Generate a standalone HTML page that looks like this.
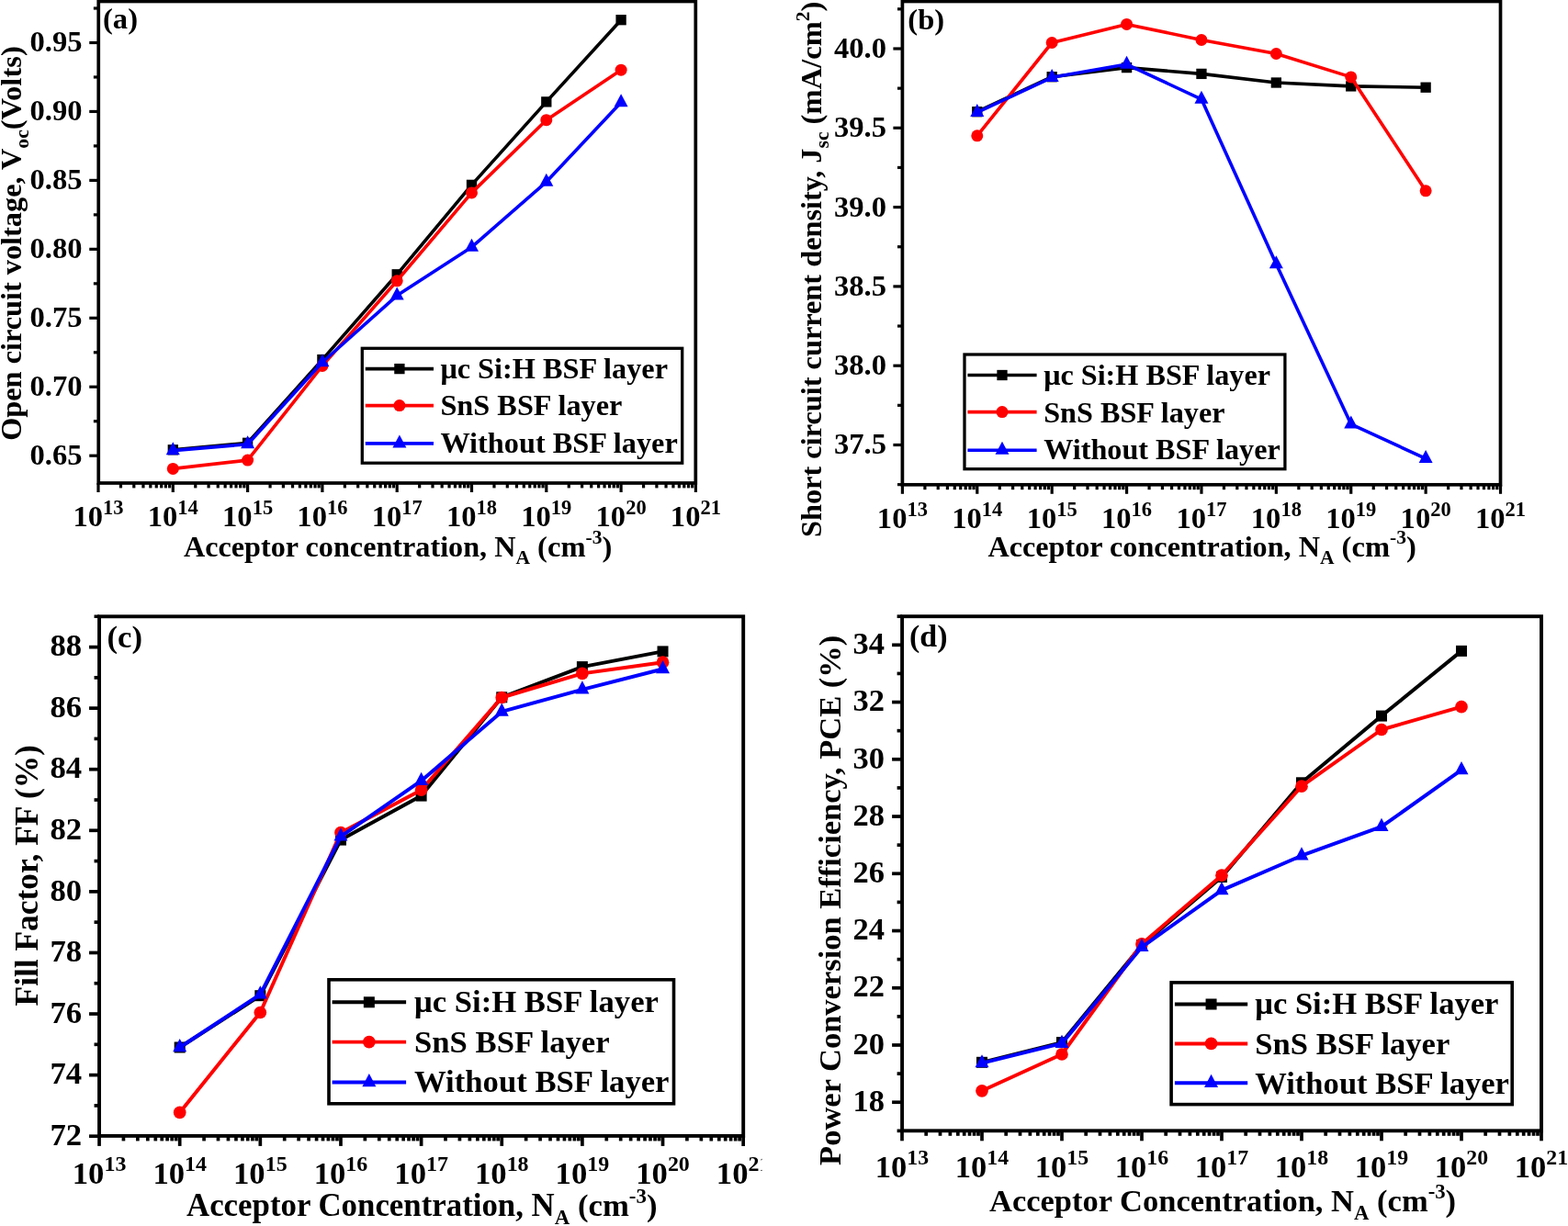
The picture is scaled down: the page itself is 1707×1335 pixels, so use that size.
<!DOCTYPE html>
<html><head><meta charset="utf-8"><title>Figure</title>
<style>html,body{margin:0;padding:0;background:#fff;}body{width:1707px;height:1335px;overflow:hidden;}svg{display:block;}</style>
</head><body>
<svg width="1707" height="1335" viewBox="0 0 1707 1335"><g stroke="#000" stroke-width="3.2" stroke-linecap="butt"><line x1="97.25" y1="496.2" x2="107.25" y2="496.2"/><line x1="97.25" y1="421.25" x2="107.25" y2="421.25"/><line x1="97.25" y1="346.3" x2="107.25" y2="346.3"/><line x1="97.25" y1="271.35" x2="107.25" y2="271.35"/><line x1="97.25" y1="196.4" x2="107.25" y2="196.4"/><line x1="97.25" y1="121.45" x2="107.25" y2="121.45"/><line x1="97.25" y1="46.5" x2="107.25" y2="46.5"/><line x1="101.85" y1="458.72" x2="107.25" y2="458.72"/><line x1="101.85" y1="383.77" x2="107.25" y2="383.77"/><line x1="101.85" y1="308.82" x2="107.25" y2="308.82"/><line x1="101.85" y1="233.87" x2="107.25" y2="233.87"/><line x1="101.85" y1="158.92" x2="107.25" y2="158.92"/><line x1="101.85" y1="83.97" x2="107.25" y2="83.97"/><line x1="101.85" y1="9.02" x2="107.25" y2="9.02"/><line x1="107" y1="526" x2="107" y2="536"/><line x1="131.47" y1="526" x2="131.47" y2="531.4"/><line x1="145.79" y1="526" x2="145.79" y2="531.4"/><line x1="155.95" y1="526" x2="155.95" y2="531.4"/><line x1="163.83" y1="526" x2="163.83" y2="531.4"/><line x1="170.26" y1="526" x2="170.26" y2="531.4"/><line x1="175.71" y1="526" x2="175.71" y2="531.4"/><line x1="180.42" y1="526" x2="180.42" y2="531.4"/><line x1="184.58" y1="526" x2="184.58" y2="531.4"/><line x1="188.3" y1="526" x2="188.3" y2="536"/><line x1="212.77" y1="526" x2="212.77" y2="531.4"/><line x1="227.09" y1="526" x2="227.09" y2="531.4"/><line x1="237.25" y1="526" x2="237.25" y2="531.4"/><line x1="245.13" y1="526" x2="245.13" y2="531.4"/><line x1="251.56" y1="526" x2="251.56" y2="531.4"/><line x1="257.01" y1="526" x2="257.01" y2="531.4"/><line x1="261.72" y1="526" x2="261.72" y2="531.4"/><line x1="265.88" y1="526" x2="265.88" y2="531.4"/><line x1="269.6" y1="526" x2="269.6" y2="536"/><line x1="294.07" y1="526" x2="294.07" y2="531.4"/><line x1="308.39" y1="526" x2="308.39" y2="531.4"/><line x1="318.55" y1="526" x2="318.55" y2="531.4"/><line x1="326.43" y1="526" x2="326.43" y2="531.4"/><line x1="332.86" y1="526" x2="332.86" y2="531.4"/><line x1="338.31" y1="526" x2="338.31" y2="531.4"/><line x1="343.02" y1="526" x2="343.02" y2="531.4"/><line x1="347.18" y1="526" x2="347.18" y2="531.4"/><line x1="350.9" y1="526" x2="350.9" y2="536"/><line x1="375.37" y1="526" x2="375.37" y2="531.4"/><line x1="389.69" y1="526" x2="389.69" y2="531.4"/><line x1="399.85" y1="526" x2="399.85" y2="531.4"/><line x1="407.73" y1="526" x2="407.73" y2="531.4"/><line x1="414.16" y1="526" x2="414.16" y2="531.4"/><line x1="419.61" y1="526" x2="419.61" y2="531.4"/><line x1="424.32" y1="526" x2="424.32" y2="531.4"/><line x1="428.48" y1="526" x2="428.48" y2="531.4"/><line x1="432.2" y1="526" x2="432.2" y2="536"/><line x1="456.67" y1="526" x2="456.67" y2="531.4"/><line x1="470.99" y1="526" x2="470.99" y2="531.4"/><line x1="481.15" y1="526" x2="481.15" y2="531.4"/><line x1="489.03" y1="526" x2="489.03" y2="531.4"/><line x1="495.46" y1="526" x2="495.46" y2="531.4"/><line x1="500.91" y1="526" x2="500.91" y2="531.4"/><line x1="505.62" y1="526" x2="505.62" y2="531.4"/><line x1="509.78" y1="526" x2="509.78" y2="531.4"/><line x1="513.5" y1="526" x2="513.5" y2="536"/><line x1="537.97" y1="526" x2="537.97" y2="531.4"/><line x1="552.29" y1="526" x2="552.29" y2="531.4"/><line x1="562.45" y1="526" x2="562.45" y2="531.4"/><line x1="570.33" y1="526" x2="570.33" y2="531.4"/><line x1="576.76" y1="526" x2="576.76" y2="531.4"/><line x1="582.21" y1="526" x2="582.21" y2="531.4"/><line x1="586.92" y1="526" x2="586.92" y2="531.4"/><line x1="591.08" y1="526" x2="591.08" y2="531.4"/><line x1="594.8" y1="526" x2="594.8" y2="536"/><line x1="619.27" y1="526" x2="619.27" y2="531.4"/><line x1="633.59" y1="526" x2="633.59" y2="531.4"/><line x1="643.75" y1="526" x2="643.75" y2="531.4"/><line x1="651.63" y1="526" x2="651.63" y2="531.4"/><line x1="658.06" y1="526" x2="658.06" y2="531.4"/><line x1="663.51" y1="526" x2="663.51" y2="531.4"/><line x1="668.22" y1="526" x2="668.22" y2="531.4"/><line x1="672.38" y1="526" x2="672.38" y2="531.4"/><line x1="676.1" y1="526" x2="676.1" y2="536"/><line x1="700.57" y1="526" x2="700.57" y2="531.4"/><line x1="714.89" y1="526" x2="714.89" y2="531.4"/><line x1="725.05" y1="526" x2="725.05" y2="531.4"/><line x1="732.93" y1="526" x2="732.93" y2="531.4"/><line x1="739.36" y1="526" x2="739.36" y2="531.4"/><line x1="744.81" y1="526" x2="744.81" y2="531.4"/><line x1="749.52" y1="526" x2="749.52" y2="531.4"/><line x1="753.68" y1="526" x2="753.68" y2="531.4"/><line x1="757.4" y1="526" x2="757.4" y2="536"/></g>
<rect x="107.25" y="1.5" width="650.05" height="524.5" fill="none" stroke="#000" stroke-width="3.7" stroke-linejoin="miter"/>
<g font-family="Liberation Serif, Times New Roman, serif" font-weight="bold" font-size="32.6" fill="#000"><text x="89.6" y="506.1" text-anchor="end">0.65</text><text x="89.6" y="431.15" text-anchor="end">0.70</text><text x="89.6" y="356.2" text-anchor="end">0.75</text><text x="89.6" y="281.25" text-anchor="end">0.80</text><text x="89.6" y="206.3" text-anchor="end">0.85</text><text x="89.6" y="131.35" text-anchor="end">0.90</text><text x="89.6" y="56.4" text-anchor="end">0.95</text><text x="107" y="573.4" text-anchor="middle">10<tspan font-size="22.49" dy="-13.04">13</tspan></text><text x="188.3" y="573.4" text-anchor="middle">10<tspan font-size="22.49" dy="-13.04">14</tspan></text><text x="269.6" y="573.4" text-anchor="middle">10<tspan font-size="22.49" dy="-13.04">15</tspan></text><text x="350.9" y="573.4" text-anchor="middle">10<tspan font-size="22.49" dy="-13.04">16</tspan></text><text x="432.2" y="573.4" text-anchor="middle">10<tspan font-size="22.49" dy="-13.04">17</tspan></text><text x="513.5" y="573.4" text-anchor="middle">10<tspan font-size="22.49" dy="-13.04">18</tspan></text><text x="594.8" y="573.4" text-anchor="middle">10<tspan font-size="22.49" dy="-13.04">19</tspan></text><text x="676.1" y="573.4" text-anchor="middle">10<tspan font-size="22.49" dy="-13.04">20</tspan></text><text x="757.4" y="573.4" text-anchor="middle">10<tspan font-size="22.49" dy="-13.04">21</tspan></text></g>
<text font-family="Liberation Serif, Times New Roman, serif" font-weight="bold" font-size="32.6" x="112" y="31">(a)</text>
<text font-family="Liberation Serif, Times New Roman, serif" font-weight="bold" font-size="32.2" x="200" y="605.5">Acceptor concentration, N<tspan font-size="21.52" dy="8.4">A</tspan><tspan font-size="32.6" dy="-8.4"> (cm</tspan><tspan font-size="21.52" dy="-13.1">-3</tspan><tspan font-size="32.6" dy="13.1">)</tspan></text>
<text font-family="Liberation Serif, Times New Roman, serif" font-weight="bold" font-size="32.3" text-anchor="middle" transform="translate(22.6,265) rotate(-90)">Open circuit voltage, V<tspan font-size="21.52" dy="8">oc</tspan><tspan font-size="32.6" dy="-8">(Volts)</tspan></text>
<polyline points="188.3,489.8 269.6,482.3 350.9,391.6 432.2,298.8 513.5,201.35 594.8,110.9 676.1,21.7" fill="none" stroke="#000000" stroke-width="3.6" stroke-linejoin="round"/>
<g fill="#000000"><rect x="182.65" y="484.15" width="11.3" height="11.3"/><rect x="263.95" y="476.65" width="11.3" height="11.3"/><rect x="345.25" y="385.95" width="11.3" height="11.3"/><rect x="426.55" y="293.15" width="11.3" height="11.3"/><rect x="507.85" y="195.7" width="11.3" height="11.3"/><rect x="589.15" y="105.25" width="11.3" height="11.3"/><rect x="670.45" y="16.05" width="11.3" height="11.3"/></g>
<polyline points="188.3,510.4 269.6,501.1 350.9,398.4 432.2,305.8 513.5,209.9 594.8,130.7 676.1,76.2" fill="none" stroke="#FF0000" stroke-width="3.6" stroke-linejoin="round"/>
<g fill="#FF0000"><circle cx="188.3" cy="510.4" r="6.5"/><circle cx="269.6" cy="501.1" r="6.5"/><circle cx="350.9" cy="398.4" r="6.5"/><circle cx="432.2" cy="305.8" r="6.5"/><circle cx="513.5" cy="209.9" r="6.5"/><circle cx="594.8" cy="130.7" r="6.5"/><circle cx="676.1" cy="76.2" r="6.5"/></g>
<polyline points="188.3,490.6 269.6,483.7 350.9,394.5 432.2,321.8 513.5,269.1 594.8,198.1 676.1,111.5" fill="none" stroke="#0000FF" stroke-width="3.6" stroke-linejoin="round"/>
<g fill="#0000FF"><path d="M188.3,481.27L195.8,495.27L180.8,495.27Z"/><path d="M269.6,474.37L277.1,488.37L262.1,488.37Z"/><path d="M350.9,385.17L358.4,399.17L343.4,399.17Z"/><path d="M432.2,312.47L439.7,326.47L424.7,326.47Z"/><path d="M513.5,259.77L521,273.77L506,273.77Z"/><path d="M594.8,188.77L602.3,202.77L587.3,202.77Z"/><path d="M676.1,102.17L683.6,116.17L668.6,116.17Z"/></g>
<rect x="394.3" y="379.3" width="348.4" height="124.9" fill="#fff" stroke="#000" stroke-width="3.3"/>
<line x1="397.8" y1="401.6" x2="472" y2="401.6" stroke="#000000" stroke-width="3.6"/>
<g fill="#000000"><rect x="429.25" y="395.95" width="11.3" height="11.3"/></g>
<text font-family="Liberation Serif, Times New Roman, serif" font-weight="bold" font-size="32.3" x="479.4" y="411.8">μc Si:H BSF layer</text>
<line x1="397.8" y1="441.6" x2="472" y2="441.6" stroke="#FF0000" stroke-width="3.6"/>
<g fill="#FF0000"><circle cx="434.9" cy="441.6" r="6.5"/></g>
<text font-family="Liberation Serif, Times New Roman, serif" font-weight="bold" font-size="32.3" x="479.4" y="452.3">SnS BSF layer</text>
<line x1="397.8" y1="482.9" x2="472" y2="482.9" stroke="#0000FF" stroke-width="3.6"/>
<g fill="#0000FF"><path d="M434.9,473.57L442.4,487.57L427.4,487.57Z"/></g>
<text font-family="Liberation Serif, Times New Roman, serif" font-weight="bold" font-size="32.3" x="479.4" y="492.5">Without BSF layer</text>
<g stroke="#000" stroke-width="3.2" stroke-linecap="butt"><line x1="972.4" y1="484.5" x2="982.4" y2="484.5"/><line x1="972.4" y1="398.2" x2="982.4" y2="398.2"/><line x1="972.4" y1="311.9" x2="982.4" y2="311.9"/><line x1="972.4" y1="225.6" x2="982.4" y2="225.6"/><line x1="972.4" y1="139.3" x2="982.4" y2="139.3"/><line x1="972.4" y1="53" x2="982.4" y2="53"/><line x1="977" y1="527.65" x2="982.4" y2="527.65"/><line x1="977" y1="441.35" x2="982.4" y2="441.35"/><line x1="977" y1="355.05" x2="982.4" y2="355.05"/><line x1="977" y1="268.75" x2="982.4" y2="268.75"/><line x1="977" y1="182.45" x2="982.4" y2="182.45"/><line x1="977" y1="96.15" x2="982.4" y2="96.15"/><line x1="977" y1="9.85" x2="982.4" y2="9.85"/><line x1="982.4" y1="527.8" x2="982.4" y2="537.8"/><line x1="1006.9" y1="527.8" x2="1006.9" y2="533.2"/><line x1="1021.23" y1="527.8" x2="1021.23" y2="533.2"/><line x1="1031.4" y1="527.8" x2="1031.4" y2="533.2"/><line x1="1039.29" y1="527.8" x2="1039.29" y2="533.2"/><line x1="1045.73" y1="527.8" x2="1045.73" y2="533.2"/><line x1="1051.18" y1="527.8" x2="1051.18" y2="533.2"/><line x1="1055.9" y1="527.8" x2="1055.9" y2="533.2"/><line x1="1060.07" y1="527.8" x2="1060.07" y2="533.2"/><line x1="1063.79" y1="527.8" x2="1063.79" y2="537.8"/><line x1="1088.29" y1="527.8" x2="1088.29" y2="533.2"/><line x1="1102.62" y1="527.8" x2="1102.62" y2="533.2"/><line x1="1112.79" y1="527.8" x2="1112.79" y2="533.2"/><line x1="1120.68" y1="527.8" x2="1120.68" y2="533.2"/><line x1="1127.12" y1="527.8" x2="1127.12" y2="533.2"/><line x1="1132.57" y1="527.8" x2="1132.57" y2="533.2"/><line x1="1137.29" y1="527.8" x2="1137.29" y2="533.2"/><line x1="1141.46" y1="527.8" x2="1141.46" y2="533.2"/><line x1="1145.18" y1="527.8" x2="1145.18" y2="537.8"/><line x1="1169.68" y1="527.8" x2="1169.68" y2="533.2"/><line x1="1184.01" y1="527.8" x2="1184.01" y2="533.2"/><line x1="1194.18" y1="527.8" x2="1194.18" y2="533.2"/><line x1="1202.07" y1="527.8" x2="1202.07" y2="533.2"/><line x1="1208.51" y1="527.8" x2="1208.51" y2="533.2"/><line x1="1213.96" y1="527.8" x2="1213.96" y2="533.2"/><line x1="1218.68" y1="527.8" x2="1218.68" y2="533.2"/><line x1="1222.85" y1="527.8" x2="1222.85" y2="533.2"/><line x1="1226.57" y1="527.8" x2="1226.57" y2="537.8"/><line x1="1251.07" y1="527.8" x2="1251.07" y2="533.2"/><line x1="1265.4" y1="527.8" x2="1265.4" y2="533.2"/><line x1="1275.57" y1="527.8" x2="1275.57" y2="533.2"/><line x1="1283.46" y1="527.8" x2="1283.46" y2="533.2"/><line x1="1289.9" y1="527.8" x2="1289.9" y2="533.2"/><line x1="1295.35" y1="527.8" x2="1295.35" y2="533.2"/><line x1="1300.07" y1="527.8" x2="1300.07" y2="533.2"/><line x1="1304.24" y1="527.8" x2="1304.24" y2="533.2"/><line x1="1307.96" y1="527.8" x2="1307.96" y2="537.8"/><line x1="1332.46" y1="527.8" x2="1332.46" y2="533.2"/><line x1="1346.79" y1="527.8" x2="1346.79" y2="533.2"/><line x1="1356.96" y1="527.8" x2="1356.96" y2="533.2"/><line x1="1364.85" y1="527.8" x2="1364.85" y2="533.2"/><line x1="1371.29" y1="527.8" x2="1371.29" y2="533.2"/><line x1="1376.74" y1="527.8" x2="1376.74" y2="533.2"/><line x1="1381.46" y1="527.8" x2="1381.46" y2="533.2"/><line x1="1385.63" y1="527.8" x2="1385.63" y2="533.2"/><line x1="1389.35" y1="527.8" x2="1389.35" y2="537.8"/><line x1="1413.85" y1="527.8" x2="1413.85" y2="533.2"/><line x1="1428.18" y1="527.8" x2="1428.18" y2="533.2"/><line x1="1438.35" y1="527.8" x2="1438.35" y2="533.2"/><line x1="1446.24" y1="527.8" x2="1446.24" y2="533.2"/><line x1="1452.68" y1="527.8" x2="1452.68" y2="533.2"/><line x1="1458.13" y1="527.8" x2="1458.13" y2="533.2"/><line x1="1462.85" y1="527.8" x2="1462.85" y2="533.2"/><line x1="1467.02" y1="527.8" x2="1467.02" y2="533.2"/><line x1="1470.74" y1="527.8" x2="1470.74" y2="537.8"/><line x1="1495.24" y1="527.8" x2="1495.24" y2="533.2"/><line x1="1509.57" y1="527.8" x2="1509.57" y2="533.2"/><line x1="1519.74" y1="527.8" x2="1519.74" y2="533.2"/><line x1="1527.63" y1="527.8" x2="1527.63" y2="533.2"/><line x1="1534.07" y1="527.8" x2="1534.07" y2="533.2"/><line x1="1539.52" y1="527.8" x2="1539.52" y2="533.2"/><line x1="1544.24" y1="527.8" x2="1544.24" y2="533.2"/><line x1="1548.41" y1="527.8" x2="1548.41" y2="533.2"/><line x1="1552.13" y1="527.8" x2="1552.13" y2="537.8"/><line x1="1576.63" y1="527.8" x2="1576.63" y2="533.2"/><line x1="1590.96" y1="527.8" x2="1590.96" y2="533.2"/><line x1="1601.13" y1="527.8" x2="1601.13" y2="533.2"/><line x1="1609.02" y1="527.8" x2="1609.02" y2="533.2"/><line x1="1615.46" y1="527.8" x2="1615.46" y2="533.2"/><line x1="1620.91" y1="527.8" x2="1620.91" y2="533.2"/><line x1="1625.63" y1="527.8" x2="1625.63" y2="533.2"/><line x1="1629.8" y1="527.8" x2="1629.8" y2="533.2"/><line x1="1633.52" y1="527.8" x2="1633.52" y2="537.8"/></g>
<rect x="982.4" y="1.5" width="651.1" height="526.3" fill="none" stroke="#000" stroke-width="3.7" stroke-linejoin="miter"/>
<g font-family="Liberation Serif, Times New Roman, serif" font-weight="bold" font-size="32.6" fill="#000"><text x="965" y="494.4" text-anchor="end">37.5</text><text x="965" y="408.1" text-anchor="end">38.0</text><text x="965" y="321.8" text-anchor="end">38.5</text><text x="965" y="235.5" text-anchor="end">39.0</text><text x="965" y="149.2" text-anchor="end">39.5</text><text x="965" y="62.9" text-anchor="end">40.0</text><text x="982.4" y="575" text-anchor="middle">10<tspan font-size="22.49" dy="-13.04">13</tspan></text><text x="1063.79" y="575" text-anchor="middle">10<tspan font-size="22.49" dy="-13.04">14</tspan></text><text x="1145.18" y="575" text-anchor="middle">10<tspan font-size="22.49" dy="-13.04">15</tspan></text><text x="1226.57" y="575" text-anchor="middle">10<tspan font-size="22.49" dy="-13.04">16</tspan></text><text x="1307.96" y="575" text-anchor="middle">10<tspan font-size="22.49" dy="-13.04">17</tspan></text><text x="1389.35" y="575" text-anchor="middle">10<tspan font-size="22.49" dy="-13.04">18</tspan></text><text x="1470.74" y="575" text-anchor="middle">10<tspan font-size="22.49" dy="-13.04">19</tspan></text><text x="1552.13" y="575" text-anchor="middle">10<tspan font-size="22.49" dy="-13.04">20</tspan></text><text x="1633.52" y="575" text-anchor="middle">10<tspan font-size="22.49" dy="-13.04">21</tspan></text></g>
<text font-family="Liberation Serif, Times New Roman, serif" font-weight="bold" font-size="32.6" x="988.3" y="32">(b)</text>
<text font-family="Liberation Serif, Times New Roman, serif" font-weight="bold" font-size="32.2" x="1075.5" y="605.5">Acceptor concentration, N<tspan font-size="21.52" dy="8.4">A</tspan><tspan font-size="32.6" dy="-8.4"> (cm</tspan><tspan font-size="21.52" dy="-13.1">-3</tspan><tspan font-size="32.6" dy="13.1">)</tspan></text>
<text font-family="Liberation Serif, Times New Roman, serif" font-weight="bold" font-size="32.35" text-anchor="middle" transform="translate(894.2,293.3) rotate(-90)">Short circuit current density, J<tspan font-size="21.52" dy="8">sc</tspan><tspan font-size="32.6" dy="-8"> (mA/cm</tspan><tspan font-size="21.52" dy="-13">2</tspan><tspan font-size="32.6" dy="13">)</tspan></text>
<polyline points="1063.79,121.7 1145.18,83.7 1226.57,73.6 1307.96,80.4 1389.35,90 1470.74,93.9 1552.13,95.2" fill="none" stroke="#000000" stroke-width="3.6" stroke-linejoin="round"/>
<g fill="#000000"><rect x="1058.14" y="116.05" width="11.3" height="11.3"/><rect x="1139.53" y="78.05" width="11.3" height="11.3"/><rect x="1220.92" y="67.95" width="11.3" height="11.3"/><rect x="1302.31" y="74.75" width="11.3" height="11.3"/><rect x="1383.7" y="84.35" width="11.3" height="11.3"/><rect x="1465.09" y="88.25" width="11.3" height="11.3"/><rect x="1546.48" y="89.55" width="11.3" height="11.3"/></g>
<polyline points="1063.79,147.8 1145.18,46.5 1226.57,26.4 1307.96,43.5 1389.35,58.5 1470.74,83.9 1552.13,207.8" fill="none" stroke="#FF0000" stroke-width="3.6" stroke-linejoin="round"/>
<g fill="#FF0000"><circle cx="1063.79" cy="147.8" r="6.5"/><circle cx="1145.18" cy="46.5" r="6.5"/><circle cx="1226.57" cy="26.4" r="6.5"/><circle cx="1307.96" cy="43.5" r="6.5"/><circle cx="1389.35" cy="58.5" r="6.5"/><circle cx="1470.74" cy="83.9" r="6.5"/><circle cx="1552.13" cy="207.8" r="6.5"/></g>
<polyline points="1063.79,122.3 1145.18,84.3 1226.57,70.1 1307.96,108.1 1389.35,287.5 1470.74,461.8 1552.13,499.4" fill="none" stroke="#0000FF" stroke-width="3.6" stroke-linejoin="round"/>
<g fill="#0000FF"><path d="M1063.79,112.97L1071.29,126.97L1056.29,126.97Z"/><path d="M1145.18,74.97L1152.68,88.97L1137.68,88.97Z"/><path d="M1226.57,60.77L1234.07,74.77L1219.07,74.77Z"/><path d="M1307.96,98.77L1315.46,112.77L1300.46,112.77Z"/><path d="M1389.35,278.17L1396.85,292.17L1381.85,292.17Z"/><path d="M1470.74,452.47L1478.24,466.47L1463.24,466.47Z"/><path d="M1552.13,490.07L1559.63,504.07L1544.63,504.07Z"/></g>
<rect x="1050" y="386" width="348.9" height="124.7" fill="#fff" stroke="#000" stroke-width="3.3"/>
<line x1="1053.4" y1="408.5" x2="1128.6" y2="408.5" stroke="#000000" stroke-width="3.6"/>
<g fill="#000000"><rect x="1085.35" y="402.85" width="11.3" height="11.3"/></g>
<text font-family="Liberation Serif, Times New Roman, serif" font-weight="bold" font-size="32.2" x="1136.2" y="419">μc Si:H BSF layer</text>
<line x1="1053.4" y1="448.6" x2="1128.6" y2="448.6" stroke="#FF0000" stroke-width="3.6"/>
<g fill="#FF0000"><circle cx="1091" cy="448.6" r="6.5"/></g>
<text font-family="Liberation Serif, Times New Roman, serif" font-weight="bold" font-size="32.2" x="1136.2" y="460.2">SnS BSF layer</text>
<line x1="1053.4" y1="490.2" x2="1128.6" y2="490.2" stroke="#0000FF" stroke-width="3.6"/>
<g fill="#0000FF"><path d="M1091,480.87L1098.5,494.87L1083.5,494.87Z"/></g>
<text font-family="Liberation Serif, Times New Roman, serif" font-weight="bold" font-size="32.2" x="1136.2" y="500.2">Without BSF layer</text>
<defs><clipPath id="clipc"><rect x="0" y="640" width="829.5" height="700"/></clipPath></defs><g clip-path="url(#clipc)">
<g stroke="#000" stroke-width="3.7" stroke-linecap="butt"><line x1="97.05" y1="1237.2" x2="108.05" y2="1237.2"/><line x1="97.05" y1="1170.62" x2="108.05" y2="1170.62"/><line x1="97.05" y1="1104.04" x2="108.05" y2="1104.04"/><line x1="97.05" y1="1037.46" x2="108.05" y2="1037.46"/><line x1="97.05" y1="970.88" x2="108.05" y2="970.88"/><line x1="97.05" y1="904.3" x2="108.05" y2="904.3"/><line x1="97.05" y1="837.72" x2="108.05" y2="837.72"/><line x1="97.05" y1="771.14" x2="108.05" y2="771.14"/><line x1="97.05" y1="704.56" x2="108.05" y2="704.56"/><line x1="102.55" y1="1203.91" x2="108.05" y2="1203.91"/><line x1="102.55" y1="1137.33" x2="108.05" y2="1137.33"/><line x1="102.55" y1="1070.75" x2="108.05" y2="1070.75"/><line x1="102.55" y1="1004.17" x2="108.05" y2="1004.17"/><line x1="102.55" y1="937.59" x2="108.05" y2="937.59"/><line x1="102.55" y1="871.01" x2="108.05" y2="871.01"/><line x1="102.55" y1="804.43" x2="108.05" y2="804.43"/><line x1="102.55" y1="737.85" x2="108.05" y2="737.85"/><line x1="102.55" y1="671.27" x2="108.05" y2="671.27"/><line x1="108.05" y1="1236.9" x2="108.05" y2="1247.9"/><line x1="134.43" y1="1236.9" x2="134.43" y2="1242.4"/><line x1="149.86" y1="1236.9" x2="149.86" y2="1242.4"/><line x1="160.81" y1="1236.9" x2="160.81" y2="1242.4"/><line x1="169.31" y1="1236.9" x2="169.31" y2="1242.4"/><line x1="176.25" y1="1236.9" x2="176.25" y2="1242.4"/><line x1="182.11" y1="1236.9" x2="182.11" y2="1242.4"/><line x1="187.2" y1="1236.9" x2="187.2" y2="1242.4"/><line x1="191.68" y1="1236.9" x2="191.68" y2="1242.4"/><line x1="195.69" y1="1236.9" x2="195.69" y2="1247.9"/><line x1="222.07" y1="1236.9" x2="222.07" y2="1242.4"/><line x1="237.5" y1="1236.9" x2="237.5" y2="1242.4"/><line x1="248.45" y1="1236.9" x2="248.45" y2="1242.4"/><line x1="256.95" y1="1236.9" x2="256.95" y2="1242.4"/><line x1="263.89" y1="1236.9" x2="263.89" y2="1242.4"/><line x1="269.75" y1="1236.9" x2="269.75" y2="1242.4"/><line x1="274.84" y1="1236.9" x2="274.84" y2="1242.4"/><line x1="279.32" y1="1236.9" x2="279.32" y2="1242.4"/><line x1="283.33" y1="1236.9" x2="283.33" y2="1247.9"/><line x1="309.71" y1="1236.9" x2="309.71" y2="1242.4"/><line x1="325.14" y1="1236.9" x2="325.14" y2="1242.4"/><line x1="336.09" y1="1236.9" x2="336.09" y2="1242.4"/><line x1="344.59" y1="1236.9" x2="344.59" y2="1242.4"/><line x1="351.53" y1="1236.9" x2="351.53" y2="1242.4"/><line x1="357.39" y1="1236.9" x2="357.39" y2="1242.4"/><line x1="362.48" y1="1236.9" x2="362.48" y2="1242.4"/><line x1="366.96" y1="1236.9" x2="366.96" y2="1242.4"/><line x1="370.97" y1="1236.9" x2="370.97" y2="1247.9"/><line x1="397.35" y1="1236.9" x2="397.35" y2="1242.4"/><line x1="412.78" y1="1236.9" x2="412.78" y2="1242.4"/><line x1="423.73" y1="1236.9" x2="423.73" y2="1242.4"/><line x1="432.23" y1="1236.9" x2="432.23" y2="1242.4"/><line x1="439.17" y1="1236.9" x2="439.17" y2="1242.4"/><line x1="445.03" y1="1236.9" x2="445.03" y2="1242.4"/><line x1="450.12" y1="1236.9" x2="450.12" y2="1242.4"/><line x1="454.6" y1="1236.9" x2="454.6" y2="1242.4"/><line x1="458.61" y1="1236.9" x2="458.61" y2="1247.9"/><line x1="484.99" y1="1236.9" x2="484.99" y2="1242.4"/><line x1="500.42" y1="1236.9" x2="500.42" y2="1242.4"/><line x1="511.37" y1="1236.9" x2="511.37" y2="1242.4"/><line x1="519.87" y1="1236.9" x2="519.87" y2="1242.4"/><line x1="526.81" y1="1236.9" x2="526.81" y2="1242.4"/><line x1="532.67" y1="1236.9" x2="532.67" y2="1242.4"/><line x1="537.76" y1="1236.9" x2="537.76" y2="1242.4"/><line x1="542.24" y1="1236.9" x2="542.24" y2="1242.4"/><line x1="546.25" y1="1236.9" x2="546.25" y2="1247.9"/><line x1="572.63" y1="1236.9" x2="572.63" y2="1242.4"/><line x1="588.06" y1="1236.9" x2="588.06" y2="1242.4"/><line x1="599.01" y1="1236.9" x2="599.01" y2="1242.4"/><line x1="607.51" y1="1236.9" x2="607.51" y2="1242.4"/><line x1="614.45" y1="1236.9" x2="614.45" y2="1242.4"/><line x1="620.31" y1="1236.9" x2="620.31" y2="1242.4"/><line x1="625.4" y1="1236.9" x2="625.4" y2="1242.4"/><line x1="629.88" y1="1236.9" x2="629.88" y2="1242.4"/><line x1="633.89" y1="1236.9" x2="633.89" y2="1247.9"/><line x1="660.27" y1="1236.9" x2="660.27" y2="1242.4"/><line x1="675.7" y1="1236.9" x2="675.7" y2="1242.4"/><line x1="686.65" y1="1236.9" x2="686.65" y2="1242.4"/><line x1="695.15" y1="1236.9" x2="695.15" y2="1242.4"/><line x1="702.09" y1="1236.9" x2="702.09" y2="1242.4"/><line x1="707.95" y1="1236.9" x2="707.95" y2="1242.4"/><line x1="713.04" y1="1236.9" x2="713.04" y2="1242.4"/><line x1="717.52" y1="1236.9" x2="717.52" y2="1242.4"/><line x1="721.53" y1="1236.9" x2="721.53" y2="1247.9"/><line x1="747.91" y1="1236.9" x2="747.91" y2="1242.4"/><line x1="763.34" y1="1236.9" x2="763.34" y2="1242.4"/><line x1="774.29" y1="1236.9" x2="774.29" y2="1242.4"/><line x1="782.79" y1="1236.9" x2="782.79" y2="1242.4"/><line x1="789.73" y1="1236.9" x2="789.73" y2="1242.4"/><line x1="795.59" y1="1236.9" x2="795.59" y2="1242.4"/><line x1="800.68" y1="1236.9" x2="800.68" y2="1242.4"/><line x1="805.16" y1="1236.9" x2="805.16" y2="1242.4"/><line x1="809.17" y1="1236.9" x2="809.17" y2="1247.9"/></g>
<rect x="108.05" y="671.3" width="701.15" height="565.6" fill="none" stroke="#000" stroke-width="3.9" stroke-linejoin="miter"/>
<g font-family="Liberation Serif, Times New Roman, serif" font-weight="bold" font-size="34.7" fill="#000"><text x="89.1" y="1246.9" text-anchor="end">72</text><text x="89.1" y="1180.32" text-anchor="end">74</text><text x="89.1" y="1113.74" text-anchor="end">76</text><text x="89.1" y="1047.16" text-anchor="end">78</text><text x="89.1" y="980.58" text-anchor="end">80</text><text x="89.1" y="914" text-anchor="end">82</text><text x="89.1" y="847.42" text-anchor="end">84</text><text x="89.1" y="780.84" text-anchor="end">86</text><text x="89.1" y="714.26" text-anchor="end">88</text><text x="108.05" y="1288.6" text-anchor="middle">10<tspan font-size="23.94" dy="-13.88">13</tspan></text><text x="195.69" y="1288.6" text-anchor="middle">10<tspan font-size="23.94" dy="-13.88">14</tspan></text><text x="283.33" y="1288.6" text-anchor="middle">10<tspan font-size="23.94" dy="-13.88">15</tspan></text><text x="370.97" y="1288.6" text-anchor="middle">10<tspan font-size="23.94" dy="-13.88">16</tspan></text><text x="458.61" y="1288.6" text-anchor="middle">10<tspan font-size="23.94" dy="-13.88">17</tspan></text><text x="546.25" y="1288.6" text-anchor="middle">10<tspan font-size="23.94" dy="-13.88">18</tspan></text><text x="633.89" y="1288.6" text-anchor="middle">10<tspan font-size="23.94" dy="-13.88">19</tspan></text><text x="721.53" y="1288.6" text-anchor="middle">10<tspan font-size="23.94" dy="-13.88">20</tspan></text><text x="809.17" y="1288.6" text-anchor="middle">10<tspan font-size="23.94" dy="-13.88">21</tspan></text></g>
<text font-family="Liberation Serif, Times New Roman, serif" font-weight="bold" font-size="34.7" x="116.5" y="705">(c)</text>
<text font-family="Liberation Serif, Times New Roman, serif" font-weight="bold" font-size="34.85" x="203" y="1324">Acceptor Concentration, N<tspan font-size="22.9" dy="9">A</tspan><tspan font-size="34.7" dy="-9"> (cm</tspan><tspan font-size="22.9" dy="-14">-3</tspan><tspan font-size="34.7" dy="14">)</tspan></text>
<text font-family="Liberation Serif, Times New Roman, serif" font-weight="bold" font-size="35.4" text-anchor="middle" transform="translate(41.2,953.3) rotate(-90)">Fill Factor, FF (%)</text>
<polyline points="195.69,1140.5 283.33,1084.2 370.97,914.6 458.61,866.6 546.25,759.3 633.89,726.1 721.53,709.4" fill="none" stroke="#000000" stroke-width="3.95" stroke-linejoin="round"/>
<g fill="#000000"><rect x="189.69" y="1134.5" width="12" height="12"/><rect x="277.33" y="1078.2" width="12" height="12"/><rect x="364.97" y="908.6" width="12" height="12"/><rect x="452.61" y="860.6" width="12" height="12"/><rect x="540.25" y="753.3" width="12" height="12"/><rect x="627.89" y="720.1" width="12" height="12"/><rect x="715.53" y="703.4" width="12" height="12"/></g>
<polyline points="195.69,1211.4 283.33,1102.5 370.97,906.7 458.61,860.2 546.25,759.5 633.89,733.4 721.53,721.2" fill="none" stroke="#FF0000" stroke-width="3.95" stroke-linejoin="round"/>
<g fill="#FF0000"><circle cx="195.69" cy="1211.4" r="6.85"/><circle cx="283.33" cy="1102.5" r="6.85"/><circle cx="370.97" cy="906.7" r="6.85"/><circle cx="458.61" cy="860.2" r="6.85"/><circle cx="546.25" cy="759.5" r="6.85"/><circle cx="633.89" cy="733.4" r="6.85"/><circle cx="721.53" cy="721.2" r="6.85"/></g>
<polyline points="195.69,1140.5 283.33,1082.8 370.97,910.8 458.61,850.2 546.25,774.9 633.89,750.8 721.53,728.5" fill="none" stroke="#0000FF" stroke-width="3.95" stroke-linejoin="round"/>
<g fill="#0000FF"><path d="M195.69,1131.03L203.19,1145.23L188.19,1145.23Z"/><path d="M283.33,1073.33L290.83,1087.53L275.83,1087.53Z"/><path d="M370.97,901.33L378.47,915.53L363.47,915.53Z"/><path d="M458.61,840.73L466.11,854.93L451.11,854.93Z"/><path d="M546.25,765.43L553.75,779.63L538.75,779.63Z"/><path d="M633.89,741.33L641.39,755.53L626.39,755.53Z"/><path d="M721.53,719.03L729.03,733.23L714.03,733.23Z"/></g>
<rect x="358" y="1066.8" width="375.5" height="135" fill="#fff" stroke="#000" stroke-width="3.6"/>
<line x1="361.6" y1="1091.3" x2="442.1" y2="1091.3" stroke="#000000" stroke-width="3.95"/>
<g fill="#000000"><rect x="395.85" y="1085.3" width="12" height="12"/></g>
<text font-family="Liberation Serif, Times New Roman, serif" font-weight="bold" font-size="34.7" x="451" y="1102.4">μc Si:H BSF layer</text>
<line x1="361.6" y1="1134.6" x2="442.1" y2="1134.6" stroke="#FF0000" stroke-width="3.95"/>
<g fill="#FF0000"><circle cx="401.85" cy="1134.6" r="6.85"/></g>
<text font-family="Liberation Serif, Times New Roman, serif" font-weight="bold" font-size="34.7" x="451" y="1146.1">SnS BSF layer</text>
<line x1="361.6" y1="1178.5" x2="442.1" y2="1178.5" stroke="#0000FF" stroke-width="3.95"/>
<g fill="#0000FF"><path d="M401.85,1169.03L409.35,1183.23L394.35,1183.23Z"/></g>
<text font-family="Liberation Serif, Times New Roman, serif" font-weight="bold" font-size="34.7" x="451" y="1189.3">Without BSF layer</text>
</g>
<g stroke="#000" stroke-width="3.7" stroke-linecap="butt"><line x1="971.1" y1="1200.24" x2="982.1" y2="1200.24"/><line x1="971.1" y1="1138" x2="982.1" y2="1138"/><line x1="971.1" y1="1075.76" x2="982.1" y2="1075.76"/><line x1="971.1" y1="1013.52" x2="982.1" y2="1013.52"/><line x1="971.1" y1="951.28" x2="982.1" y2="951.28"/><line x1="971.1" y1="889.04" x2="982.1" y2="889.04"/><line x1="971.1" y1="826.8" x2="982.1" y2="826.8"/><line x1="971.1" y1="764.56" x2="982.1" y2="764.56"/><line x1="971.1" y1="702.32" x2="982.1" y2="702.32"/><line x1="976.6" y1="1231.36" x2="982.1" y2="1231.36"/><line x1="976.6" y1="1169.12" x2="982.1" y2="1169.12"/><line x1="976.6" y1="1106.88" x2="982.1" y2="1106.88"/><line x1="976.6" y1="1044.64" x2="982.1" y2="1044.64"/><line x1="976.6" y1="982.4" x2="982.1" y2="982.4"/><line x1="976.6" y1="920.16" x2="982.1" y2="920.16"/><line x1="976.6" y1="857.92" x2="982.1" y2="857.92"/><line x1="976.6" y1="795.68" x2="982.1" y2="795.68"/><line x1="976.6" y1="733.44" x2="982.1" y2="733.44"/><line x1="976.6" y1="671.2" x2="982.1" y2="671.2"/><line x1="982" y1="1231.3" x2="982" y2="1242.3"/><line x1="1008.19" y1="1231.3" x2="1008.19" y2="1236.8"/><line x1="1023.51" y1="1231.3" x2="1023.51" y2="1236.8"/><line x1="1034.38" y1="1231.3" x2="1034.38" y2="1236.8"/><line x1="1042.81" y1="1231.3" x2="1042.81" y2="1236.8"/><line x1="1049.7" y1="1231.3" x2="1049.7" y2="1236.8"/><line x1="1055.52" y1="1231.3" x2="1055.52" y2="1236.8"/><line x1="1060.57" y1="1231.3" x2="1060.57" y2="1236.8"/><line x1="1065.02" y1="1231.3" x2="1065.02" y2="1236.8"/><line x1="1069" y1="1231.3" x2="1069" y2="1242.3"/><line x1="1095.19" y1="1231.3" x2="1095.19" y2="1236.8"/><line x1="1110.51" y1="1231.3" x2="1110.51" y2="1236.8"/><line x1="1121.38" y1="1231.3" x2="1121.38" y2="1236.8"/><line x1="1129.81" y1="1231.3" x2="1129.81" y2="1236.8"/><line x1="1136.7" y1="1231.3" x2="1136.7" y2="1236.8"/><line x1="1142.52" y1="1231.3" x2="1142.52" y2="1236.8"/><line x1="1147.57" y1="1231.3" x2="1147.57" y2="1236.8"/><line x1="1152.02" y1="1231.3" x2="1152.02" y2="1236.8"/><line x1="1156" y1="1231.3" x2="1156" y2="1242.3"/><line x1="1182.19" y1="1231.3" x2="1182.19" y2="1236.8"/><line x1="1197.51" y1="1231.3" x2="1197.51" y2="1236.8"/><line x1="1208.38" y1="1231.3" x2="1208.38" y2="1236.8"/><line x1="1216.81" y1="1231.3" x2="1216.81" y2="1236.8"/><line x1="1223.7" y1="1231.3" x2="1223.7" y2="1236.8"/><line x1="1229.52" y1="1231.3" x2="1229.52" y2="1236.8"/><line x1="1234.57" y1="1231.3" x2="1234.57" y2="1236.8"/><line x1="1239.02" y1="1231.3" x2="1239.02" y2="1236.8"/><line x1="1243" y1="1231.3" x2="1243" y2="1242.3"/><line x1="1269.19" y1="1231.3" x2="1269.19" y2="1236.8"/><line x1="1284.51" y1="1231.3" x2="1284.51" y2="1236.8"/><line x1="1295.38" y1="1231.3" x2="1295.38" y2="1236.8"/><line x1="1303.81" y1="1231.3" x2="1303.81" y2="1236.8"/><line x1="1310.7" y1="1231.3" x2="1310.7" y2="1236.8"/><line x1="1316.52" y1="1231.3" x2="1316.52" y2="1236.8"/><line x1="1321.57" y1="1231.3" x2="1321.57" y2="1236.8"/><line x1="1326.02" y1="1231.3" x2="1326.02" y2="1236.8"/><line x1="1330" y1="1231.3" x2="1330" y2="1242.3"/><line x1="1356.19" y1="1231.3" x2="1356.19" y2="1236.8"/><line x1="1371.51" y1="1231.3" x2="1371.51" y2="1236.8"/><line x1="1382.38" y1="1231.3" x2="1382.38" y2="1236.8"/><line x1="1390.81" y1="1231.3" x2="1390.81" y2="1236.8"/><line x1="1397.7" y1="1231.3" x2="1397.7" y2="1236.8"/><line x1="1403.52" y1="1231.3" x2="1403.52" y2="1236.8"/><line x1="1408.57" y1="1231.3" x2="1408.57" y2="1236.8"/><line x1="1413.02" y1="1231.3" x2="1413.02" y2="1236.8"/><line x1="1417" y1="1231.3" x2="1417" y2="1242.3"/><line x1="1443.19" y1="1231.3" x2="1443.19" y2="1236.8"/><line x1="1458.51" y1="1231.3" x2="1458.51" y2="1236.8"/><line x1="1469.38" y1="1231.3" x2="1469.38" y2="1236.8"/><line x1="1477.81" y1="1231.3" x2="1477.81" y2="1236.8"/><line x1="1484.7" y1="1231.3" x2="1484.7" y2="1236.8"/><line x1="1490.52" y1="1231.3" x2="1490.52" y2="1236.8"/><line x1="1495.57" y1="1231.3" x2="1495.57" y2="1236.8"/><line x1="1500.02" y1="1231.3" x2="1500.02" y2="1236.8"/><line x1="1504" y1="1231.3" x2="1504" y2="1242.3"/><line x1="1530.19" y1="1231.3" x2="1530.19" y2="1236.8"/><line x1="1545.51" y1="1231.3" x2="1545.51" y2="1236.8"/><line x1="1556.38" y1="1231.3" x2="1556.38" y2="1236.8"/><line x1="1564.81" y1="1231.3" x2="1564.81" y2="1236.8"/><line x1="1571.7" y1="1231.3" x2="1571.7" y2="1236.8"/><line x1="1577.52" y1="1231.3" x2="1577.52" y2="1236.8"/><line x1="1582.57" y1="1231.3" x2="1582.57" y2="1236.8"/><line x1="1587.02" y1="1231.3" x2="1587.02" y2="1236.8"/><line x1="1591" y1="1231.3" x2="1591" y2="1242.3"/><line x1="1617.19" y1="1231.3" x2="1617.19" y2="1236.8"/><line x1="1632.51" y1="1231.3" x2="1632.51" y2="1236.8"/><line x1="1643.38" y1="1231.3" x2="1643.38" y2="1236.8"/><line x1="1651.81" y1="1231.3" x2="1651.81" y2="1236.8"/><line x1="1658.7" y1="1231.3" x2="1658.7" y2="1236.8"/><line x1="1664.52" y1="1231.3" x2="1664.52" y2="1236.8"/><line x1="1669.57" y1="1231.3" x2="1669.57" y2="1236.8"/><line x1="1674.02" y1="1231.3" x2="1674.02" y2="1236.8"/><line x1="1678" y1="1231.3" x2="1678" y2="1242.3"/></g>
<rect x="982.1" y="671.2" width="695.9" height="560.1" fill="none" stroke="#000" stroke-width="3.9" stroke-linejoin="miter"/>
<g font-family="Liberation Serif, Times New Roman, serif" font-weight="bold" font-size="34.5" fill="#000"><text x="963" y="1209.94" text-anchor="end">18</text><text x="963" y="1147.7" text-anchor="end">20</text><text x="963" y="1085.46" text-anchor="end">22</text><text x="963" y="1023.22" text-anchor="end">24</text><text x="963" y="960.98" text-anchor="end">26</text><text x="963" y="898.74" text-anchor="end">28</text><text x="963" y="836.5" text-anchor="end">30</text><text x="963" y="774.26" text-anchor="end">32</text><text x="963" y="712.02" text-anchor="end">34</text><text x="982" y="1281.8" text-anchor="middle">10<tspan font-size="23.8" dy="-13.8">13</tspan></text><text x="1069" y="1281.8" text-anchor="middle">10<tspan font-size="23.8" dy="-13.8">14</tspan></text><text x="1156" y="1281.8" text-anchor="middle">10<tspan font-size="23.8" dy="-13.8">15</tspan></text><text x="1243" y="1281.8" text-anchor="middle">10<tspan font-size="23.8" dy="-13.8">16</tspan></text><text x="1330" y="1281.8" text-anchor="middle">10<tspan font-size="23.8" dy="-13.8">17</tspan></text><text x="1417" y="1281.8" text-anchor="middle">10<tspan font-size="23.8" dy="-13.8">18</tspan></text><text x="1504" y="1281.8" text-anchor="middle">10<tspan font-size="23.8" dy="-13.8">19</tspan></text><text x="1591" y="1281.8" text-anchor="middle">10<tspan font-size="23.8" dy="-13.8">20</tspan></text><text x="1678" y="1281.8" text-anchor="middle">10<tspan font-size="23.8" dy="-13.8">21</tspan></text></g>
<text font-family="Liberation Serif, Times New Roman, serif" font-weight="bold" font-size="34" x="990" y="703.5">(d)</text>
<text font-family="Liberation Serif, Times New Roman, serif" font-weight="bold" font-size="34.5" x="1077" y="1318.6">Acceptor Concentration, N<tspan font-size="22.77" dy="9">A</tspan><tspan font-size="34.5" dy="-9"> (cm</tspan><tspan font-size="22.77" dy="-14">-3</tspan><tspan font-size="34.5" dy="14">)</tspan></text>
<text font-family="Liberation Serif, Times New Roman, serif" font-weight="bold" font-size="34.5" text-anchor="middle" transform="translate(915,980.3) rotate(-90)">Power Conversion Efficiency, PCE (%)</text>
<polyline points="1069,1156.8 1156,1135.1 1243,1029.2 1330,955 1417,852.3 1504,779.6 1591,708.9" fill="none" stroke="#000000" stroke-width="3.95" stroke-linejoin="round"/>
<g fill="#000000"><rect x="1063" y="1150.8" width="12" height="12"/><rect x="1150" y="1129.1" width="12" height="12"/><rect x="1237" y="1023.2" width="12" height="12"/><rect x="1324" y="949" width="12" height="12"/><rect x="1411" y="846.3" width="12" height="12"/><rect x="1498" y="773.6" width="12" height="12"/><rect x="1585" y="702.9" width="12" height="12"/></g>
<polyline points="1069,1187.8 1156,1148 1243,1027.9 1330,953.2 1417,856.2 1504,794.5 1591,769.7" fill="none" stroke="#FF0000" stroke-width="3.95" stroke-linejoin="round"/>
<g fill="#FF0000"><circle cx="1069" cy="1187.8" r="6.85"/><circle cx="1156" cy="1148" r="6.85"/><circle cx="1243" cy="1027.9" r="6.85"/><circle cx="1330" cy="953.2" r="6.85"/><circle cx="1417" cy="856.2" r="6.85"/><circle cx="1504" cy="794.5" r="6.85"/><circle cx="1591" cy="769.7" r="6.85"/></g>
<polyline points="1069,1157.6 1156,1136.2 1243,1031.3 1330,969.4 1417,931.7 1504,900.2 1591,838.4" fill="none" stroke="#0000FF" stroke-width="3.95" stroke-linejoin="round"/>
<g fill="#0000FF"><path d="M1069,1148.13L1076.5,1162.33L1061.5,1162.33Z"/><path d="M1156,1126.73L1163.5,1140.93L1148.5,1140.93Z"/><path d="M1243,1021.83L1250.5,1036.03L1235.5,1036.03Z"/><path d="M1330,959.93L1337.5,974.13L1322.5,974.13Z"/><path d="M1417,922.23L1424.5,936.43L1409.5,936.43Z"/><path d="M1504,890.73L1511.5,904.93L1496.5,904.93Z"/><path d="M1591,828.93L1598.5,843.13L1583.5,843.13Z"/></g>
<rect x="1275.1" y="1069.9" width="371.1" height="132.7" fill="#fff" stroke="#000" stroke-width="3.6"/>
<line x1="1278.9" y1="1093.5" x2="1358.2" y2="1093.5" stroke="#000000" stroke-width="3.95"/>
<g fill="#000000"><rect x="1312.55" y="1087.5" width="12" height="12"/></g>
<text font-family="Liberation Serif, Times New Roman, serif" font-weight="bold" font-size="34.6" x="1366.3" y="1104.1">μc Si:H BSF layer</text>
<line x1="1278.9" y1="1136.4" x2="1358.2" y2="1136.4" stroke="#FF0000" stroke-width="3.95"/>
<g fill="#FF0000"><circle cx="1318.55" cy="1136.4" r="6.85"/></g>
<text font-family="Liberation Serif, Times New Roman, serif" font-weight="bold" font-size="34.6" x="1366.3" y="1147.7">SnS BSF layer</text>
<line x1="1278.9" y1="1179.2" x2="1358.2" y2="1179.2" stroke="#0000FF" stroke-width="3.95"/>
<g fill="#0000FF"><path d="M1318.55,1169.73L1326.05,1183.93L1311.05,1183.93Z"/></g>
<text font-family="Liberation Serif, Times New Roman, serif" font-weight="bold" font-size="34.6" x="1366.3" y="1191">Without BSF layer</text></svg>
</body></html>
